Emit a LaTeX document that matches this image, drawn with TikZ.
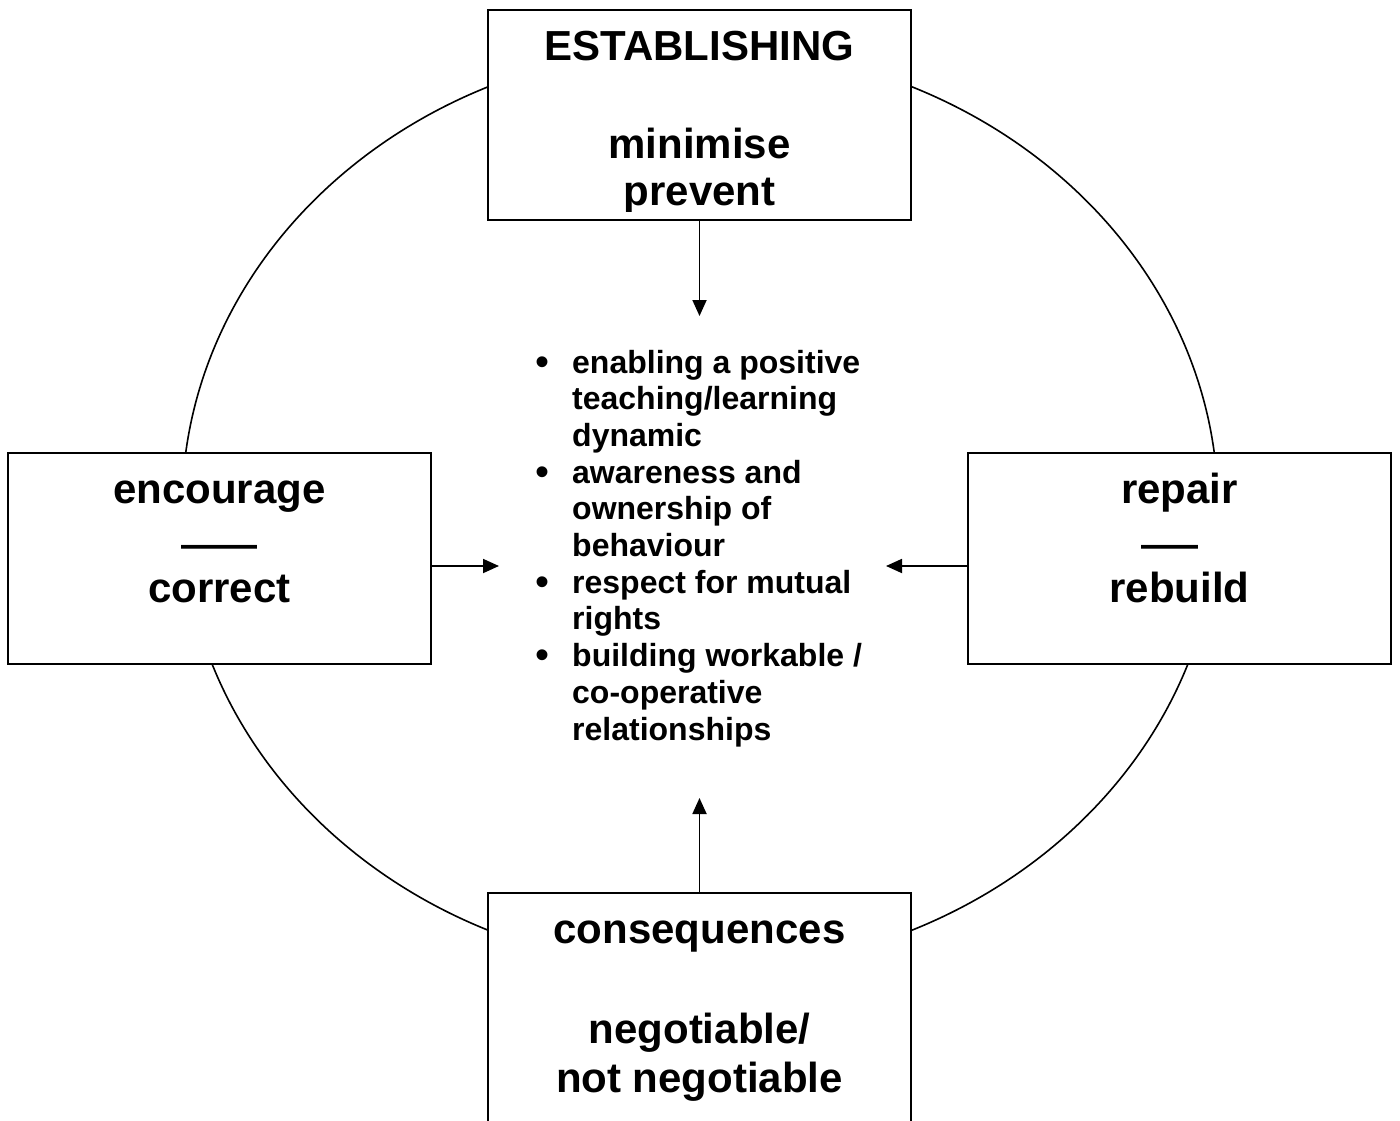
\documentclass[tikz,border=0pt]{standalone}
\usepackage{fontspec}
\setmainfont{Liberation Sans}
\usetikzlibrary{arrows.meta}
\begin{document}
\begin{tikzpicture}[x=1pt,y=-1pt,
  box/.style={draw, fill=white, line width=2pt, rectangle, inner sep=0pt, minimum width=423pt},
  big/.style={font=\fontsize{42}{48}\selectfont\bfseries, inner sep=0pt, anchor=base},
  dashtxt/.style={font=\fontsize{38}{40}\selectfont\bfseries, inner sep=0pt, anchor=base},
  item/.style={font=\fontsize{32}{37}\selectfont\bfseries, inner sep=0pt, anchor=base west},
  dot/.style={font=\fontsize{40}{40}\selectfont, inner sep=0pt, anchor=base},
  arr/.style={line width=1.8pt, -{Triangle[length=16pt,width=14pt]}}]
\useasboundingbox (0,0) rectangle (1400,1121);
\fill[white] (0,0) rectangle (1400,1121);

% the cycle behind the four stages
\draw[line width=1.6pt] (700,508.5) ellipse [x radius=518, y radius=462];

% stage boxes
\node[box, minimum height=210pt] (estab) at (699.5,115) {};
\node[box, minimum height=211pt] (enc) at (219.5,558.5) {};
\node[box, minimum height=211pt] (rep) at (1179.5,558.5) {};
\node[box, minimum height=242pt] (cons) at (699.5,1014) {};

% top box text, cut off by the box margin
\begin{scope}
  \clip (488,10) rectangle (911,211);
  \node[big] (estabA) at (699.5,61) {ESTABLISHING};
  \node[big] (estabB) at (699.5,158) {minimise};
  \node[big] (estabC) at (699.5,205) {prevent};
\end{scope}

% left box
\node[big] (encA) at (219.5,503) {encourage};
\node[dashtxt] (encB) at (219.5,557) {——};
\node[big] (encC) at (219.5,602) {correct};

% right box
\node[big] (repA) at (1179.5,503) {repair};
\node[dashtxt] (repB) at (1170,557) {\scalebox{1.5}[1]{—}};
\node[big] (repC) at (1179.5,602) {rebuild};

% bottom box
\node[big] (consA) at (699.5,943) {consequences};
\node[big] (consB) at (699.5,1043) {negotiable/};
\node[big] (consC) at (699.5,1092) {not negotiable};

% central list of outcomes
\foreach \k/\y in {1/375, 2/485.1, 3/595.2, 4/668.6}
  \node[dot] (bul\k) at (542,\y) {•};
\node[item] (l1) at (572,373) {enabling a positive};
\node[item] (l2) at (572,409.7) {teaching/learning};
\node[item] (l3) at (572,446.4) {dynamic};
\node[item] (l4) at (572,483.1) {awareness and};
\node[item] (l5) at (572,519.8) {ownership of};
\node[item] (l6) at (572,556.5) {behaviour};
\node[item] (l7) at (572,593.2) {respect for mutual};
\node[item] (l8) at (572,629.9) {rights};
\node[item] (l9) at (572,666.6) {building workable /};
\node[item] (l10) at (572,703.3) {co-operative};
\node[item] (l11) at (572,740) {relationships};

% arrows into the centre
\coordinate (tipT) at (699.5,316);
\coordinate (tipL) at (499,566);
\coordinate (tipR) at (886,566);
\coordinate (tipB) at (699.5,798);
\draw[arr] (estab.south) -- (tipT);
\draw[arr] (enc.east |- tipL) -- (tipL);
\draw[arr] (rep.west |- tipR) -- (tipR);
\draw[arr] (cons.north) -- (tipB);
\end{tikzpicture}
\end{document}
